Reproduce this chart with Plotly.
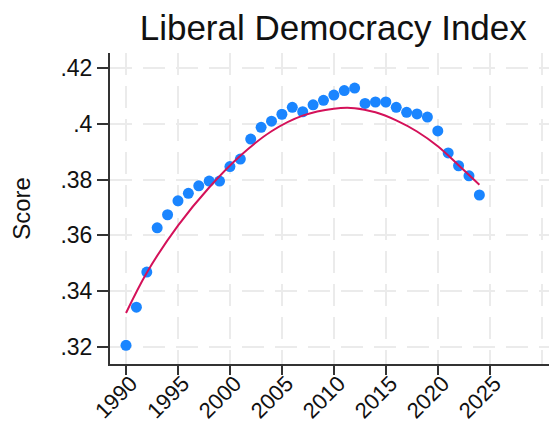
import plotly.graph_objects as go

years = list(range(1990, 2025))
scores = [0.3205, 0.3342, 0.3468, 0.3627, 0.3674, 0.3724, 0.3751, 0.3778, 0.3795, 0.3795,
          0.3847, 0.3874, 0.3946, 0.3988, 0.4010, 0.4035, 0.4060, 0.4044, 0.4069, 0.4085,
          0.4104, 0.4120, 0.4129, 0.4074, 0.4079, 0.4079, 0.4060, 0.4042, 0.4036, 0.4025,
          0.3975, 0.3896, 0.3850, 0.3814, 0.3745]
# quadratic fit curve
fit_years = [1990, 1992, 1995, 1998, 2001, 2004, 2007, 2010, 2012, 2014, 2016, 2018, 2020, 2022, 2024]
fit_values = [0.3321, 0.3466, 0.3635, 0.3772, 0.3886, 0.3974, 0.4030, 0.4055, 0.4057, 0.4042,
              0.4013, 0.3973, 0.3920, 0.3852, 0.3782]
x_ticks = [1990, 1995, 2000, 2005, 2010, 2015, 2020, 2025]
y_ticks = [0.32, 0.34, 0.36, 0.38, 0.40, 0.42]
y_ticktext = [".32", ".34", ".36", ".38", ".4", ".42"]
title_text = "Liberal Democracy Index"
y_title = "Score"

GRID = "#ebebeb"
DASH = "22px,11px"
grid = dict(showgrid=True, gridcolor=GRID, gridwidth=1.8, griddash=DASH)

fig = go.Figure()
fig.add_trace(go.Scatter(x=years, y=scores, mode="markers",
                         marker=dict(color="#1A85FF", size=11, line=dict(width=0)),
                         showlegend=False))
fig.add_trace(go.Scatter(x=fit_years, y=fit_values, mode="lines",
                         line=dict(color="#D41159", width=2, shape="spline"),
                         showlegend=False))

fig.update_layout(
    width=549, height=428,
    margin=dict(l=110, r=0, t=53, b=64),
    paper_bgcolor="white", plot_bgcolor="white",
    font=dict(family="Liberation Sans, Arial, sans-serif", color="#111111"),
    title=dict(text=title_text, x=0.607, xanchor="center", y=0.935, yanchor="middle",
               font=dict(size=35, color="#111111")),
    xaxis=dict(range=[1988.46, 2030.7], tickvals=x_ticks, tickangle=-45,
               tickfont=dict(size=22), ticks="outside", ticklen=9, tickwidth=2,
               tickcolor="#333333", showline=True, linecolor="#333333", linewidth=2,
               zeroline=False, automargin=False,
               ticklabelstandoff=-13, ticklabelshift=5,
               minor=dict(tickvals=[2030], showgrid=True, gridcolor=GRID,
                          gridwidth=1.8, griddash=DASH, ticks=""),
               **grid),
    yaxis=dict(range=[0.3138, 0.4255], tickvals=y_ticks, ticktext=y_ticktext,
               tickfont=dict(size=23), ticks="outside", ticklen=11, tickwidth=2,
               tickcolor="#333333", showline=True, linecolor="#333333", linewidth=2,
               zeroline=False, automargin=False,
               title=dict(text=y_title, font=dict(size=24), standoff=23),
               **grid),
)

fig.write_html("out.html", config={"displayModeBar": False},
               post_script="document.body.style.margin='0';")
